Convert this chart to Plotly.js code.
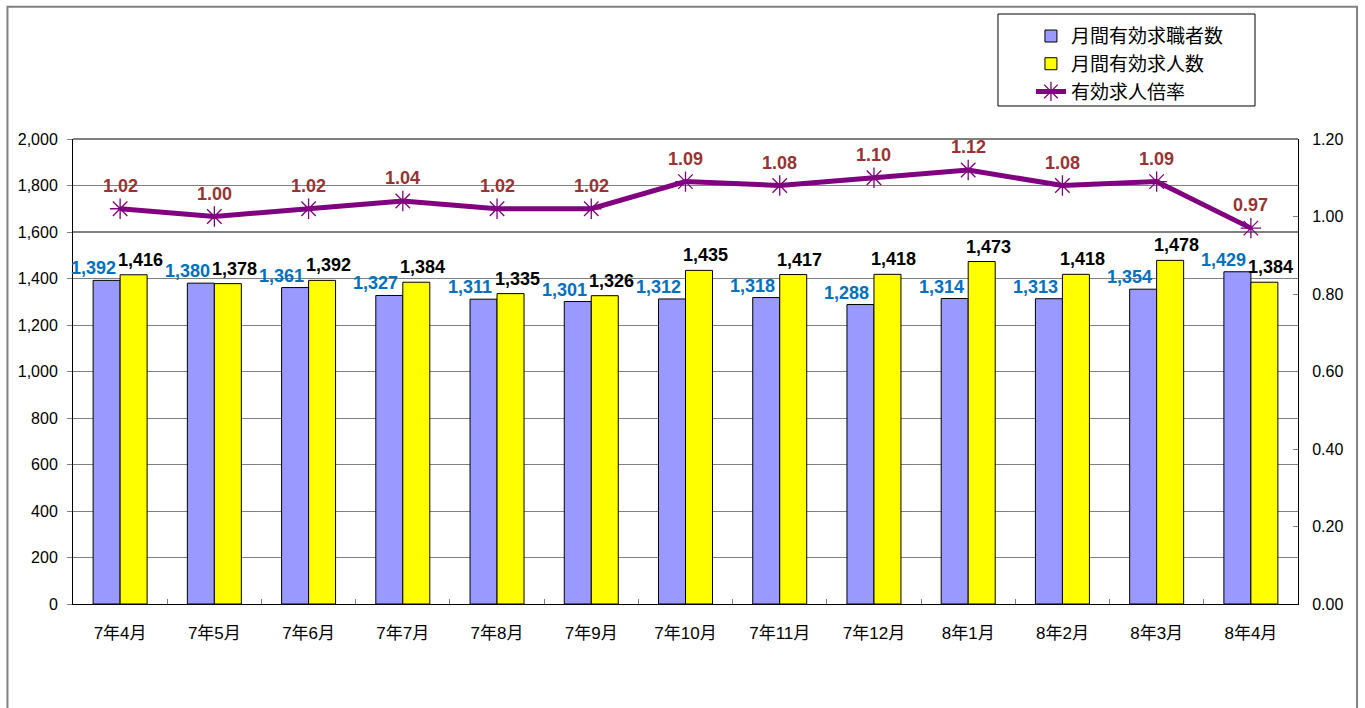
<!DOCTYPE html>
<html>
<head>
<meta charset="utf-8">
<script src="https://cdn.plot.ly/plotly-3.0.1.min.js"></script>
<style>
  html, body { margin: 0; padding: 0; background: #fff; }
  #chart { width: 1365px; height: 708px; }
</style>
</head>
<body>
<div id="chart"></div>
<script>
const categories = ["7年4月","7年5月","7年6月","7年7月","7年8月","7年9月","7年10月","7年11月","7年12月","8年1月","8年2月","8年3月","8年4月"];
const jobSeekers = [1392,1380,1361,1327,1311,1301,1312,1318,1288,1314,1313,1354,1429];
const jobOffers  = [1416,1378,1392,1384,1335,1326,1435,1417,1418,1473,1418,1478,1384];
const ratio      = [1.02,1.00,1.02,1.04,1.02,1.02,1.09,1.08,1.10,1.12,1.08,1.09,0.97];
const seriesNames = ["月間有効求職者数","月間有効求人数","有効求人倍率"];
const leftTicks = [0,200,400,600,800,1000,1200,1400,1600,1800,2000];
const rightTicks = [0,0.2,0.4,0.6,0.8,1.0,1.2];

const FONT = "'Liberation Sans', Arial, 'Noto Sans CJK JP', sans-serif";
const fmt = v => v.toLocaleString('en-US');

const traces = [
  {
    type: 'bar', name: seriesNames[0], x: categories, y: jobSeekers, legendgroup: 'a',
    marker: { color: '#9999FF', line: { color: '#000000', width: 1 } },
    hoverinfo: 'skip'
  },
  {
    type: 'bar', name: seriesNames[1], x: categories, y: jobOffers, legendgroup: 'b',
    marker: { color: '#FFFF00', line: { color: '#000000', width: 1 } },
    hoverinfo: 'skip'
  },
  {
    type: 'scatter', mode: 'lines+markers', name: seriesNames[2], x: categories, y: ratio,
    yaxis: 'y2', legendgroup: 'c',
    line: { color: '#800080', width: 5 },
    marker: { symbol: 'asterisk-open', size: 17, color: '#800080', line: { color: '#800080', width: 1.3 } },
    hoverinfo: 'skip'
  }
];

const annotations = [];
categories.forEach((c, i) => {
  annotations.push({
    x: c, y: jobSeekers[i], xref: 'x', yref: 'y', text: fmt(jobSeekers[i]),
    showarrow: false, yanchor: 'bottom', xanchor: 'center', xshift: -27, yshift: 0,
    font: { family: FONT, size: 18, color: '#0070C0', weight: 'bold' }
  });
  annotations.push({
    x: c, y: jobOffers[i], xref: 'x', yref: 'y', text: fmt(jobOffers[i]),
    showarrow: false, yanchor: 'bottom', xanchor: 'center', xshift: 20, yshift: 3,
    font: { family: FONT, size: 18, color: '#000000', weight: 'bold' }
  });
  annotations.push({
    x: c, y: ratio[i], xref: 'x', yref: 'y2', text: ratio[i].toFixed(2),
    showarrow: false, yanchor: 'bottom', xanchor: 'center', yshift: 11,
    font: { family: FONT, size: 18, color: '#993333', weight: 'bold' }
  });
});

const layout = {
  width: 1365, height: 708,
  margin: { l: 73, r: 67, t: 139, b: 104 },
  paper_bgcolor: '#ffffff', plot_bgcolor: '#ffffff',
  font: { family: FONT, size: 16, color: '#000000' },
  barmode: 'group', bargap: 0.427, bargroupgap: 0,
  showlegend: true,
  legend: {
    x: 0.782, y: 1.262, xanchor: 'left', yanchor: 'top',
    borderwidth: 0, bgcolor: 'rgba(0,0,0,0)',
    font: { family: FONT, size: 19, color: '#000000' },
    tracegroupgap: 4, traceorder: 'normal'
  },
  xaxis: {
    type: 'category', range: [-0.5, 12.5], autorange: false,
    showline: true, linecolor: '#000000', linewidth: 1,
    ticks: 'inside', tickson: 'boundaries', ticklen: 5, tickcolor: '#808080',
    ticklabelstandoff: 14,
    tickfont: { family: FONT, size: 17, color: '#000000' },
    showgrid: false, zeroline: false, mirror: false
  },
  yaxis: {
    range: [0, 2000], tickvals: leftTicks, tickformat: ',d',
    showline: true, linecolor: '#000000', linewidth: 1, mirror: false,
    ticks: 'outside', ticklen: 5, tickcolor: '#808080', ticklabelstandoff: 6,
    showgrid: true, gridcolor: '#808080', gridwidth: 1, zeroline: false,
    tickfont: { family: FONT, size: 16, color: '#000000' }
  },
  yaxis2: {
    range: [0, 1.2], tickvals: rightTicks, tickformat: '.2f',
    overlaying: 'y', side: 'right',
    showline: true, linecolor: '#000000', linewidth: 1,
    ticks: 'inside', ticklen: 5, tickcolor: '#808080', ticklabelstandoff: 10,
    showgrid: false, zeroline: false,
    tickfont: { family: FONT, size: 16, color: '#000000' }
  },
  shapes: [
    { type: 'line', xref: 'paper', yref: 'y', x0: 0, x1: 1, y0: 1600, y1: 1600, line: { color: '#000000', width: 1 }, layer: 'below' },
    { type: 'line', xref: 'paper', yref: 'paper', x0: 0, x1: 1, y0: 1, y1: 1, line: { color: '#000000', width: 1 } },
    { type: 'rect', xref: 'paper', yref: 'paper', x0: 0.7551, x1: 0.9649, y0: 1.0710, y1: 1.2688,
      line: { color: '#000000', width: 1 }, fillcolor: 'rgba(0,0,0,0)' },
    { type: 'path', xref: 'paper', yref: 'paper',
      path: 'M -0.0535,-0.3 L -0.0535,1.2845 L 1.0482,1.2845 L 1.0482,-0.3',
      line: { color: '#808080', width: 2 } }
  ],
  annotations: annotations
};

Plotly.newPlot('chart', traces, layout, { displayModeBar: false, staticPlot: true });
</script>
</body>
</html>
